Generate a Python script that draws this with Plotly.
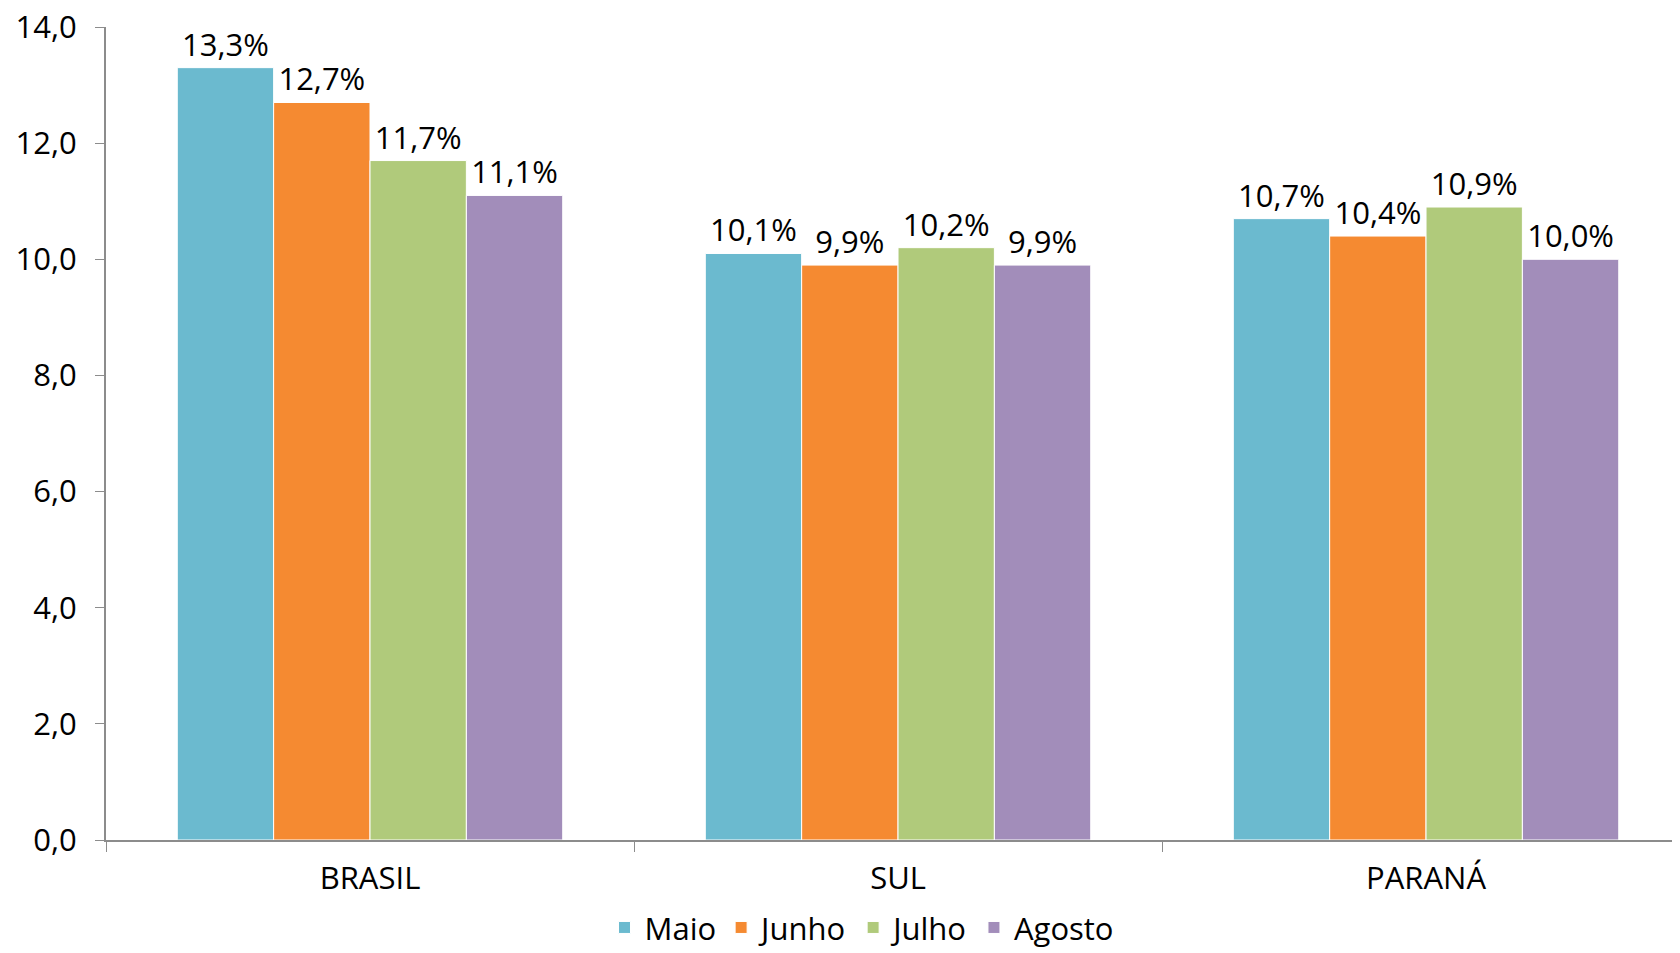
import plotly.graph_objects as go

# Regions and monthly values
regioes = ["BRASIL", "SUL", "PARANÁ"]
meses = ["Maio", "Junho", "Julho", "Agosto"]
maio = [13.3, 10.1, 10.7]
junho = [12.7, 9.9, 10.4]
julho = [11.7, 10.2, 10.9]
agosto = [11.1, 9.9, 10.0]
y_ticks = [0, 2, 4, 6, 8, 10, 12, 14]

series = [maio, junho, julho, agosto]
cores = ["#6BBACF", "#F58A31", "#B0CA7B", "#A28DBA"]
fonte = "Open Sans, Noto Sans, sans-serif"
tam = 31


def br(v, dec=1):
    return f"{v:.{dec}f}".replace(".", ",")


fig = go.Figure()
for nome, vals, cor in zip(meses, series, cores):
    fig.add_trace(
        go.Bar(
            x=regioes,
            y=vals,
            name=nome,
            marker=dict(color=cor, line=dict(color="white", width=1)),
            text=[br(v) + "%" for v in vals],
            textposition="outside",
            textfont=dict(size=tam, color="black", family=fonte),
            cliponaxis=False,
        )
    )

# page body adds an 8px margin, so the figure is 8px smaller to fit the window
fig.update_layout(
    width=1672,
    height=945,
    barmode="group",
    bargap=0.27,
    bargroupgap=0,
    plot_bgcolor="white",
    paper_bgcolor="white",
    font=dict(family=fonte, size=tam, color="black"),
    margin=dict(l=98, r=0, t=19, b=113, autoexpand=False),
    legend=dict(
        orientation="h",
        x=0.48,
        xanchor="center",
        y=-0.108,
        yanchor="middle",
        font=dict(size=31),
        itemwidth=30,
        tracegroupgap=0,
    ),
)
fig.update_xaxes(
    range=[-0.5, 2.481],
    automargin=False,
    showline=True,
    linecolor="#8c8c8c",
    linewidth=2,
    ticks="outside",
    tickson="boundaries",
    ticklen=10,
    tickcolor="#8c8c8c",
    tickwidth=1,
    ticklabelstandoff=10,
    showgrid=False,
)
fig.update_yaxes(
    range=[0, 14],
    automargin=False,
    tickvals=y_ticks,
    ticktext=[br(v) for v in y_ticks],
    ticklabeloverflow="allow",
    showline=True,
    linecolor="#8c8c8c",
    linewidth=2,
    ticks="outside",
    ticklen=9,
    tickcolor="#8c8c8c",
    tickwidth=1,
    ticklabelstandoff=12,
    showgrid=False,
    zeroline=False,
)

fig.write_html("out.html")
